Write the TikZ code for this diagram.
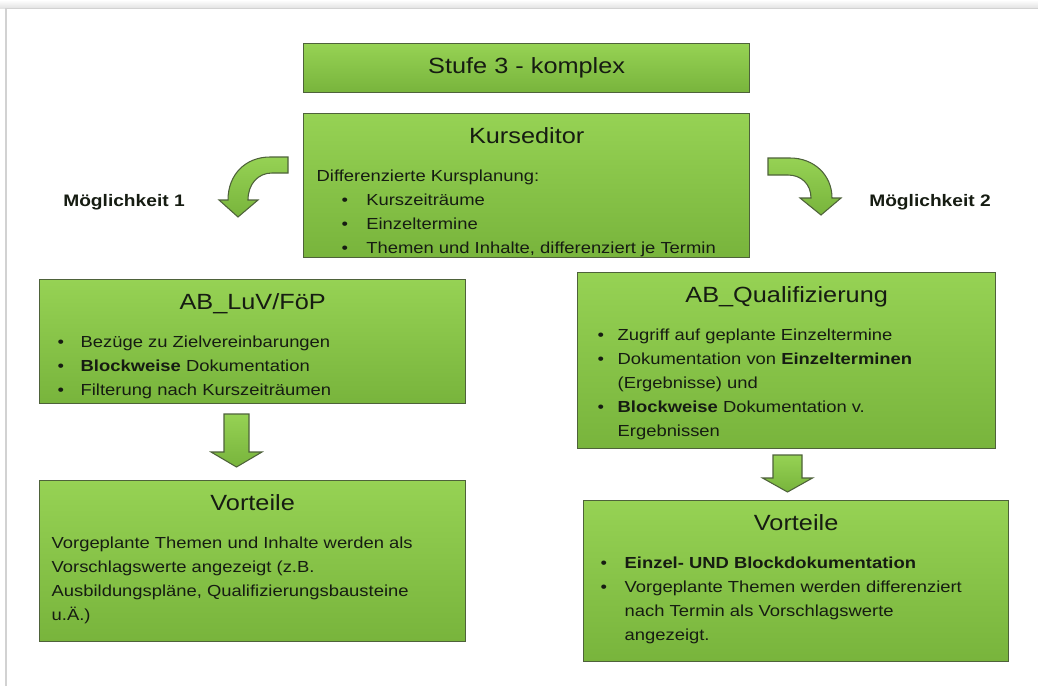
\documentclass[tikz,border=0pt]{standalone}
\usepackage{fontspec}
\setmainfont{Liberation Sans}[FakeStretch=1.15]
\usetikzlibrary{positioning}

\definecolor{boxtop}{RGB}{150,210,84}
\definecolor{boxbot}{RGB}{120,180,60}
\definecolor{boxedge}{RGB}{78,98,58}
\definecolor{ink}{RGB}{22,28,18}

\newcommand{\titlefont}{\fontsize{16.5}{20}\selectfont}
\newcommand{\bodyfont}{\fontsize{12}{18}\selectfont}
% box content: width, height, title, body
\newcommand{\boxtext}[4]{%
	\parbox[t][#2][t]{#1}{\parskip=0pt\centering\rule{0pt}{22.5pt}\titlefont #3\par
		\raggedright\bodyfont\vspace{10.5pt}#4\par}}
% bullet item: bullet offset, text offset, text
\newcommand{\itm}[3]{%
	\par\noindent\hangindent=#2\hangafter=1\makebox[#2][l]{\hspace{#1}\textbullet}#3}

\tikzset{
	box/.style={draw=boxedge, line width=1pt, top color=boxtop, bottom color=boxbot,
		inner sep=0pt, anchor=north west, text=ink, align=left},
	blockarrow/.style={draw=boxedge, line width=0.8pt, top color=boxtop, bottom color=boxbot},
	lbl/.style={font=\fontsize{12.5}{14}\selectfont\bfseries, text=ink}
}

\begin{document}
\begin{tikzpicture}[x=0.75pt,y=-0.75pt]

\useasboundingbox (0,0) rectangle (1038,686);

% Draw the card behind the diagram
\fill[white] (0,0) rectangle (1038,686);
\fill[top color=white, bottom color=gray!22] (0,0) rectangle (1038,8);
\draw[gray!35, line width=1pt] (6,686) -- (6,8.5) -- (1038,8.5);

% A small downward block arrow macro
\newcommand{\blockdown}[6]{% x, top, head base, tip, shaft half-width, head half-width
	\draw[blockarrow] (#1-#5,#2) -- (#1+#5,#2) -- (#1+#5,#3) -- (#1+#6,#3)
		-- (#1,#4) -- (#1-#6,#3) -- (#1-#5,#3) -- cycle;
}

\node[box, minimum width=334.5pt, minimum height=36.75pt, align=center, font=\titlefont]
	(stufe) at (303,43) {Stufe 3 - komplex};

\node[box] (kurs) at (303,113) {\boxtext{334.5pt}{108pt}{Kurseditor}{%
	{\leftskip=9.75pt\noindent Differenzierte Kursplanung:\par}
	\itm{28.5pt}{47pt}{Kurszeiträume}
	\itm{28.5pt}{47pt}{Einzeltermine}
	\itm{28.5pt}{47pt}{Themen und Inhalte, differenziert je Termin}}};

\node[box] (luv) at (39,279) {\boxtext{319.5pt}{93pt}{AB\_LuV/FöP}{%
	\itm{13.5pt}{30.75pt}{Bezüge zu Zielvereinbarungen}
	\itm{13.5pt}{30.75pt}{\textbf{Blockweise} Dokumentation}
	\itm{13.5pt}{30.75pt}{Filterung nach Kurszeiträumen}}};

\node[box] (vorl) at (39,480) {\boxtext{319.5pt}{120.75pt}{Vorteile}{%
	{\leftskip=9pt\noindent Vorgeplante Themen und Inhalte werden als\newline
	Vorschlagswerte angezeigt (z.B.\newline
	Ausbildungspläne, Qualifizierungsbausteine\newline
	u.Ä.)\par}}};

\node[box] (qual) at (577,272) {\boxtext{313.5pt}{132pt}{AB\_Qualifizierung}{%
	\itm{15pt}{30pt}{Zugriff auf geplante Einzeltermine}
	\itm{15pt}{30pt}{Dokumentation von \textbf{Einzelterminen}\newline (Ergebnisse) und}
	\itm{15pt}{30pt}{\textbf{Blockweise} Dokumentation v.\newline Ergebnissen}}};

\node[box] (vorr) at (583,500) {\boxtext{318.75pt}{120.75pt}{Vorteile}{%
	\itm{12.75pt}{30.75pt}{\textbf{Einzel- UND Blockdokumentation}}
	\itm{12.75pt}{30.75pt}{Vorgeplante Themen werden differenziert\newline
		nach Termin als Vorschlagswerte\newline angezeigt.}}};

% Curved arrows to the two options
\draw[blockarrow] (288,157) -- (270,157) .. controls (246,157) and (228,174) .. (228,200)
	-- (219,200) -- (238,217) -- (258,200) -- (248,200)
	.. controls (248,184) and (258,173) .. (272,173) -- (288,173) -- cycle;
\draw[blockarrow] (768,158) -- (790,158) .. controls (814,158) and (832,175) .. (832,198)
	-- (841,198) -- (821,215) -- (800,198) -- (811,198)
	.. controls (811,184) and (801,175) .. (788,175) -- (768,175) -- cycle;

\node[lbl] (opt1) at (124,202) {Möglichkeit 1};
\node[lbl] (opt2) at (930,202) {Möglichkeit 2};

% Straight arrows down to the advantages
\blockdown{236.5}{414}{452}{467}{12.5}{25.5}
\blockdown{787.5}{455}{478}{492}{14.5}{25}

\end{tikzpicture}
\end{document}
